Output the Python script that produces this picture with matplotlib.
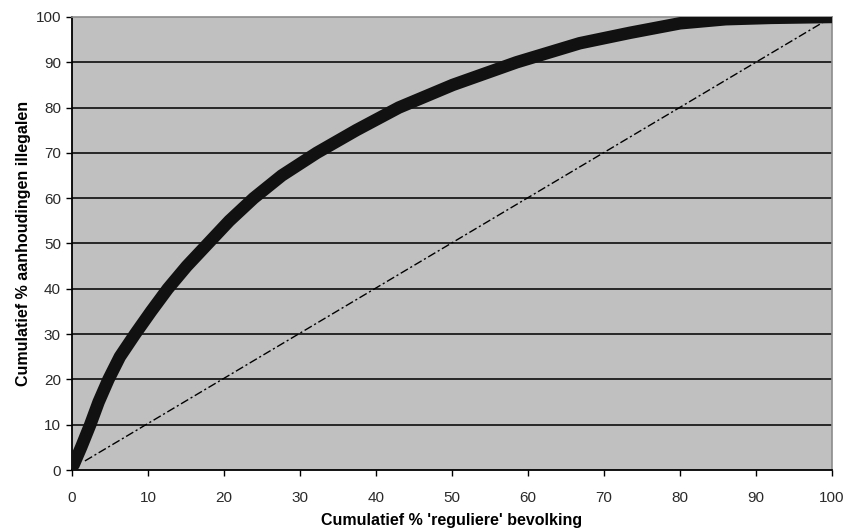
import numpy as np
import matplotlib.pyplot as plt

plt.rcParams["font.family"] = ["Liberation Sans", "DejaVu Sans"]

# values
cum_bevolking = [0.2, 1.2, 2.4, 3.5, 4.8, 6.3, 8.3, 10.4, 12.6, 15.1, 17.9, 20.7,
                 23.9, 27.6, 32.2, 37.4, 43.0, 50.1, 58.5, 66.8, 73.4, 80.0,
                 86.0, 92.0, 100.0]
cum_illegalen = [1.1, 5.0, 10.0, 15.0, 20.0, 25.0, 30.0, 35.0, 40.0, 45.0, 50.0, 55.0,
                 60.0, 65.0, 70.0, 75.0, 80.0, 85.0, 90.0, 94.2, 96.5, 98.6,
                 99.5, 99.8, 100.0]
diag_x = [1.7, 100.0]
diag_y = [2.0, 100.0]

fig = plt.figure(figsize=(8.48, 5.3), dpi=100)
ax = fig.add_axes([0.0849, 0.1132, 0.8963, 0.8548])
ax.set_facecolor("#c0c0c0")

for yv in range(10, 100, 10):
    ax.axhline(yv, color="#1a1a1a", lw=1.3, zorder=1)

ax.plot(diag_x, diag_y, color="black", lw=1.0, dashes=(6, 2, 1.5, 2), zorder=2)
ax.plot(cum_bevolking, cum_illegalen, color="#111111", lw=9,
        solid_capstyle="round", solid_joinstyle="round", zorder=3)

ax.set_xlim(0, 100)
ax.set_ylim(0, 100)
ax.set_xticks(np.arange(0, 101, 10))
ax.set_yticks(np.arange(0, 101, 10))
ax.tick_params(direction="out", length=4, width=1, labelsize=11,
               colors="black", labelcolor="#2a2a2a")
ax.tick_params(axis="x", pad=11)
ax.tick_params(axis="y", pad=4)

for s in ["top", "right"]:
    ax.spines[s].set_color("#8c8c8c")
    ax.spines[s].set_linewidth(1.2)
for s in ["left", "bottom"]:
    ax.spines[s].set_color("black")
    ax.spines[s].set_linewidth(1.3)

ax.set_xlabel("Cumulatief % 'reguliere' bevolking", fontsize=11.5,
              fontweight="bold", labelpad=6)
ax.set_ylabel("Cumulatief % aanhoudingen illegalen", fontsize=11.5,
              fontweight="bold", labelpad=3)

fig.savefig("out.png", dpi=100)
